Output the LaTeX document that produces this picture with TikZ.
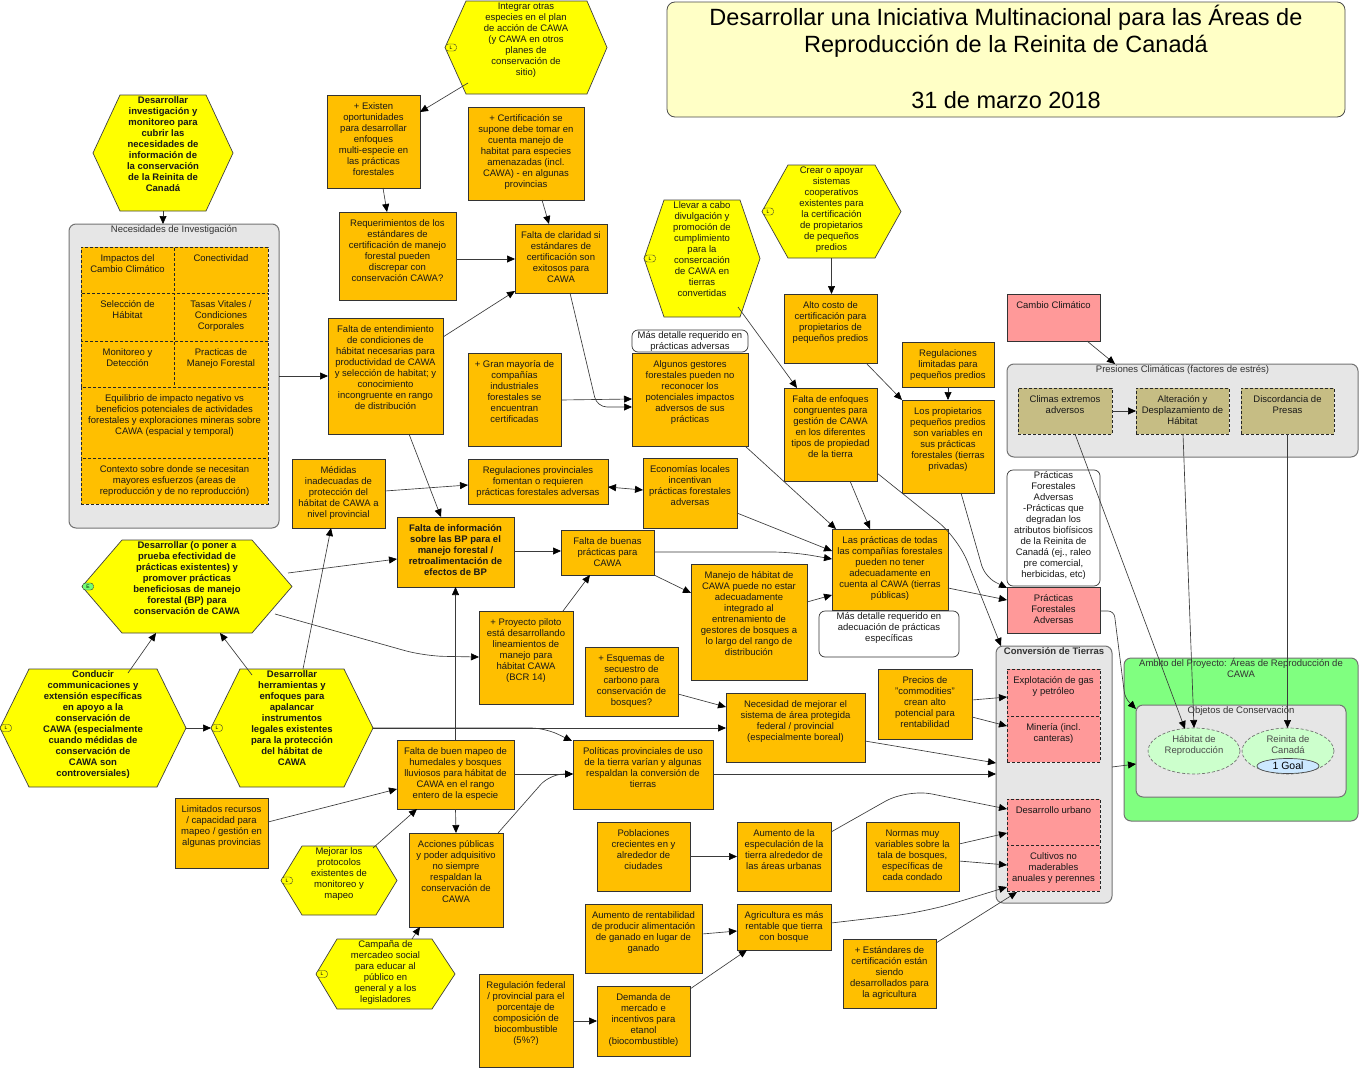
\documentclass[tikz,border=0pt]{standalone}
\usepackage{fontspec}
\setmainfont{Liberation Sans}
\usetikzlibrary{arrows.meta,shapes.geometric}

\definecolor{orng}{HTML}{FFBF00}
\definecolor{yel}{HTML}{FFFF00}
\definecolor{gry}{HTML}{E6E6E6}
\definecolor{rd}{HTML}{FF9999}
\definecolor{grn}{HTML}{80FF80}
\definecolor{olv}{HTML}{C6BD84}
\definecolor{lgrn}{HTML}{CCFFCC}
\definecolor{lblue}{HTML}{CCE8FF}
\definecolor{ttl}{HTML}{FFFFC6}
\definecolor{edge}{HTML}{3A3A3A}

\newcommand{\fs}{\fontsize{9.5}{11}\selectfont}

\tikzset{
  base/.style={inner sep=0pt, outer sep=0pt},
  box/.style={base, draw=black!80, fill=orng, line width=0.8pt},
  rbox/.style={box, fill=rd},
  cell/.style={base, draw=black!85, fill=orng, line width=0.8pt, dash pattern=on 3pt off 2pt},
  rcell/.style={cell, fill=rd},
  ocell/.style={cell, fill=olv},
  note/.style={base, draw=black!80, fill=white, rounded corners=6pt, line width=0.7pt},
  cont/.style={base, draw=black!55, fill=gry, rounded corners=7pt, line width=1pt},
  gcont/.style={cont, fill=grn},
  lbl/.style={base, align=center, font=\fs, text=black!90},
  hexa/.style={draw=black!75, fill=yel, line width=0.7pt},
  badge/.style={base, draw=black!80, fill=#1, rounded corners=3pt, minimum width=11pt, minimum height=7pt, font=\fontsize{5}{5}\selectfont},
  ell/.style={base, ellipse, draw=black!55, dash pattern=on 3pt off 2pt, fill=lgrn, line width=0.7pt},
  goal/.style={base, ellipse, draw=black!70, fill=lblue, line width=0.7pt, font=\fontsize{10.5}{12}\selectfont},
  arr/.style={draw=edge, line width=0.65pt, -{Triangle[length=8pt,width=7pt,black]}},
  dbl/.style={draw=edge, line width=0.65pt, {Triangle[length=8pt,width=7pt,black]}-{Triangle[length=8pt,width=7pt,black]}},
}

% box: [style]{name}{left}{top}{right}{bottom}{text}
\newcommand{\bx}[7][box]{%
  \node[#1, anchor=north west, minimum width={#5-#3}, minimum height={#6-#4}] (#2) at (#3,#4) {};
  \node[lbl, anchor=north] (#2-t) at ([yshift=-6pt]#2.north) {\rule{0pt}{8.5pt}#7};}
% bold box: {name}{left}{top}{right}{bottom}{text}
\newcommand{\bbx}[6]{%
  \node[box, anchor=north west, minimum width={#4-#2}, minimum height={#5-#3}] (#1) at (#2,#3) {};
  \node[lbl, font=\fs\bfseries, anchor=north] (#1-t) at ([yshift=-6pt]#1.north) {\rule{0pt}{8.5pt}#6};}
% note: {name}{left}{top}{right}{bottom}{text}
\newcommand{\nt}[6]{%
  \node[note, anchor=north west, minimum width={#4-#2}, minimum height={#5-#3}] (#1) at (#2,#3) {};
  \node[lbl, anchor=north] (#1-t) at (#1.north) {\rule{0pt}{8pt}#6};}
% container: [style]{name}{left}{top}{right}{bottom}{title}
\newcommand{\ct}[7][cont]{%
  \node[#1, anchor=north west, minimum width={#5-#3}, minimum height={#6-#4}] (#2) at (#3,#4) {};
  \node[lbl, anchor=north, text=black!80] (#2-t) at (#2.north) {\rule{0pt}{8.5pt}#7};}
% hexagon: {name}{left}{top-edge left}{top-edge right}{right}{top}{bottom}{font}{text}
\newcommand{\hx}[9]{%
  \path[hexa] (#2,{(#6+#7)/2}) -- (#3,#6) -- (#4,#6) -- (#5,{(#6+#7)/2}) -- (#4,#7) -- (#3,#7) -- cycle;
  \node[base, anchor=north west, minimum width={#5-#2}, minimum height={#7-#6}] (#1) at (#2,#6) {};
  \node[lbl, font=\fs#8, anchor=north] (#1-t) at (#1.north) {\rule{0pt}{8.5pt}#9};}
% badge: {name}{x}{y}{fill}{letter}
\newcommand{\bdg}[5]{\node[badge=#4] (#1) at (#2,#3) {#5};}

\begin{document}
\begin{tikzpicture}[x=1pt,y=-1pt]
\useasboundingbox (0,0) rectangle (1361,1084);
\fill[white] (0,0) rectangle (1361,1084);

% ---------- title ----------
\node[base, draw=black!70, fill=ttl, rounded corners=8pt, line width=0.8pt, anchor=north west, minimum width=678, minimum height=115] (title) at (667,2) {};
\node[base, anchor=base, font=\fontsize{23.5}{27}\selectfont] (title-a) at ([yshift=-23.5pt]title.north) {Desarrollar una Iniciativa Multinacional para las Áreas de};
\node[base, anchor=base, font=\fontsize{23.5}{27}\selectfont] (title-b) at ([yshift=-50.5pt]title.north) {Reproducción de la Reinita de Canadá};
\node[base, anchor=base, font=\fontsize{23.5}{27}\selectfont] (title-c) at ([yshift=-106.5pt]title.north) {31 de marzo 2018};

% ---------- containers ----------
\ct{c1}{69}{224}{279}{528}{Necesidades de Investigación}
\ct{c2}{1007}{364}{1358}{457}{Presiones Climáticas (factores de estrés)}
\ct{c3}{996}{646}{1112}{903}{\bfseries Conversión de Tierras}
\ct[gcont]{c4}{1124}{658}{1358}{821}{Ambito del Proyecto: Áreas de Reproducción de\\CAWA}
\ct{c5}{1136}{705}{1346}{797}{Objetos de Conservación}

% research needs
\bx[cell]{k1}{81}{247}{174}{293}{Impactos del\\Cambio Climático}
\bx[cell]{k2}{174}{247}{268}{293}{Conectividad}
\bx[cell]{k3}{81}{293}{174}{341}{Selección de\\Hábitat}
\bx[cell]{k4}{174}{293}{268}{341}{Tasas Vitales /\\Condiciones\\Corporales}
\bx[cell]{k5}{81}{341}{174}{387}{Monitoreo y\\Detección}
\bx[cell]{k6}{174}{341}{268}{387}{Practicas de\\Manejo Forestal}
\bx[cell]{k7}{81}{387}{268}{458}{Equilibrio de impacto negativo vs\\beneficios potenciales de actividades\\forestales y exploraciones mineras sobre\\CAWA (espacial y temporal)}
\bx[cell]{k8}{81}{458}{268}{504}{Contexto sobre donde se necesitan\\mayores esfuerzos (areas de\\reproducción y de no reproducción)}

% climate pressures
\bx[ocell]{cl}{1018}{388}{1112}{434}{Climas extremos\\adversos}
\bx[ocell]{al}{1136}{388}{1229}{434}{Alteración y\\Desplazamiento de\\Hábitat}
\bx[ocell]{ds}{1241}{388}{1334}{434}{Discordancia de\\Presas}

% land conversion
\bx[rcell]{x1}{1007}{669}{1100}{716}{Explotación de gas\\y petróleo}
\bx[rcell]{x2}{1007}{716}{1100}{762}{Minería (incl.\\canteras)}
\bx[rcell]{x3}{1007}{799}{1100}{845}{Desarrollo urbano}
\bx[rcell]{x4}{1007}{845}{1100}{891}{Cultivos no\\maderables\\anuales y perennes}

% conservation targets
\node[ell, minimum width=92, minimum height=46] (e1) at (1194,751) {};
\node[lbl, anchor=north, text=black!70] (e1-t) at ([yshift=-6pt]e1.north) {\rule{0pt}{8.5pt}Hábitat de\\Reproducción};
\node[ell, minimum width=92, minimum height=46] (e2) at (1288,751) {};
\node[lbl, anchor=north, text=black!70] (e2-t) at ([yshift=-6pt]e2.north) {\rule{0pt}{8.5pt}Reinita de\\Canadá};
\node[goal, minimum width=62, minimum height=15] (g1) at (1288,766) {1 Goal};

% ---------- threats ----------
\bx[rbox]{r1}{1007}{294}{1100}{341}{Cambio Climático}
\nt{n3}{1007}{470}{1100}{586}{Prácticas\\Forestales\\Adversas\\-Prácticas que\\degradan los\\atributos biofísicos\\de la Reinita de\\Canadá (ej., raleo\\pre comercial,\\herbicidas, etc)}
\bx[rbox]{r2}{1007}{587}{1100}{633}{Prácticas\\Forestales\\Adversas}

% ---------- contributing factors ----------
\bx{b1}{327}{95}{420}{188}{+ Existen\\oportunidades\\para desarrollar\\enfoques\\multi-especie en\\las prácticas\\forestales}
\bx{b2}{339}{212}{456}{300}{Requerimientos de los\\estándares de\\certificación de manejo\\forestal pueden\\discrepar con\\conservación CAWA?}
\bx{b3}{515}{224}{607}{293}{Falta de claridad si\\estándares de\\certificación son\\exitosos para\\CAWA}
\bx{b4}{468}{107}{584}{200}{+ Certificación se\\supone debe tomar en\\cuenta manejo de\\habitat para especies\\amenazadas (incl.\\CAWA) - en algunas\\provincias}
\bx{b5}{328}{318}{443}{434}{Falta de entendimiento\\de condiciones de\\hábitat necesarias para\\productividad de CAWA\\y selección de habitat; y\\conocimiento\\incongruente en rango\\de distribución}
\bx{b6}{468}{353}{561}{446}{+ Gran mayoría de\\compañías\\industriales\\forestales se\\encuentran\\certificadas}
\nt{n1}{632}{330}{748}{352}{Más detalle requerido en\\prácticas adversas}
\bx{b8}{632}{353}{748}{446}{Algunos gestores\\forestales pueden no\\reconocer los\\potenciales impactos\\adversos de sus\\prácticas}
\bx{b9}{784}{294}{877}{363}{Alto costo de\\certificación para\\propietarios de\\pequeños predios}
\bx{b10}{902}{342}{994}{387}{Regulaciones\\limitadas para\\pequeños predios}
\bx{b11}{902}{400}{994}{493}{Los propietarios\\pequeños predios\\son variables en\\sus prácticas\\forestales (tierras\\privadas)}
\bx{b12}{784}{388}{877}{481}{Falta de enfoques\\congruentes para\\gestión de CAWA\\en los diferentes\\tipos de propiedad\\de la tierra}
\bx{b13}{643}{458}{737}{528}{Economías locales\\incentivan\\prácticas forestales\\adversas}
\bx{b14}{468}{459}{608}{504}{Regulaciones provinciales\\fomentan o requieren\\prácticas forestales adversas}
\bx{b15}{292}{459}{385}{528}{Médidas\\inadecuadas de\\protección del\\hábitat de CAWA a\\nivel provincial}
\bbx{b16}{397}{517}{514}{587}{Falta de información\\sobre las BP para el\\manejo forestal /\\retroalimentación de\\efectos de BP}
\bx{b17}{561}{530}{654}{575}{Falta de buenas\\prácticas para\\CAWA}
\bx{b18}{691}{564}{807}{680}{Manejo de hábitat de\\CAWA puede no estar\\adecuadamente\\integrado al\\entrenamiento de\\gestores de bosques a\\lo largo del rango de\\distribución}
\bx{b19}{832}{529}{948}{610}{Las prácticas de todas\\las compañías forestales\\pueden no tener\\adecuadamente en\\cuenta al CAWA (tierras\\públicas)}
\nt{n2}{819}{611}{959}{657}{Más detalle requerido en\\adecuación de prácticas\\específicas}
\bx{b21}{479}{611}{573}{704}{+ Proyecto piloto\\está desarrollando\\lineamientos de\\manejo para\\hábitat CAWA\\(BCR 14)}
\bx{b22}{397}{740}{514}{809}{Falta de buen mapeo de\\humedales y bosques\\lluviosos para hábitat de\\CAWA en el rango\\entero de la especie}
\bx{b23}{573}{740}{713}{809}{Políticas provinciales de uso\\de la tierra varían y algunas\\respaldan la conversión de\\tierras}
\bx{b24}{175}{798}{268}{868}{Limitados recursos\\/ capacidad para\\mapeo / gestión en\\algunas provincias}
\bx{b25}{585}{647}{678}{716}{+ Esquemas de\\secuestro de\\carbono para\\conservación de\\bosques?}
\bx{b26}{726}{693}{865}{762}{Necesidad de mejorar el\\sistema de área protegida\\federal / provincial\\(especialmente boreal)}
\bx{b27}{878}{669}{972}{739}{Precios de\\"commodities"\\crean alto\\potencial para\\rentabilidad}
\bx{b28}{409}{833}{503}{927}{Acciones públicas\\y poder adquisitivo\\no siempre\\respaldan la\\conservación de\\CAWA}
\bx{b29}{479}{974}{573}{1067}{Regulación federal\\/ provincial para el\\porcentaje de\\composición de\\biocombustible\\(5\%?)}
\bx{b30}{597}{822}{690}{891}{Poblaciones\\crecientes en y\\alrededor de\\ciudades}
\bx{b31}{737}{822}{831}{891}{Aumento de la\\especulación de la\\tierra alrededor de\\las áreas urbanas}
\bx{b32}{597}{986}{690}{1056}{Demanda de\\mercado e\\incentivos para\\etanol\\(biocombustible)}
\bx{b33}{585}{904}{702}{973}{Aumento de rentabilidad\\de producir alimentación\\de ganado en lugar de\\ganado}
\bx{b34}{737}{904}{831}{950}{Agricultura es más\\rentable que tierra\\con bosque}
\bx{b35}{866}{822}{959}{891}{Normas muy\\variables sobre la\\tala de bosques,\\específicas de\\cada condado}
\bx{b36}{843}{939}{936}{1008}{+ Estándares de\\certificación están\\siendo\\desarrollados para\\la agricultura}

% ---------- strategies ----------
\hx{h1}{93}{120}{206}{233}{95}{211}{\bfseries}{Desarrollar\\investigación y\\monitoreo para\\cubrir las\\necesidades de\\información de\\la conservación\\de la Reinita de\\Canadá}
\hx{h2}{445}{466}{587}{607}{1}{94}{}{Integrar otras\\especies en el plan\\de acción de CAWA\\(y CAWA en otros\\planes de\\conservación de\\sitio)}
\hx{h3}{644}{664}{740}{760}{200}{317}{}{Llevar a cabo\\divulgación y\\promoción de\\cumplimiento\\para la\\consercación\\de CAWA en\\tierras\\convertidas}
\hx{h4}{762}{788}{875}{901}{165}{258}{}{Crear o apoyar\\sistemas\\cooperativos\\existentes para\\la certificación\\de propietarios\\de pequeños\\predios}
\hx{h5}{82}{122}{252}{292}{540}{633}{\bfseries}{Desarrollar (o poner a\\prueba efectividad de\\prácticas existentes) y\\promover prácticas\\beneficiosas de manejo\\forestal (BP) para\\conservación de CAWA}
\hx{h6}{0}{29}{157}{186}{669}{787}{\bfseries}{Conducir\\communicaciones y\\extensión específicas\\en apoyo a la\\conservación de\\CAWA (especialmente\\cuando médidas de\\conservación de\\CAWA son\\controversiales)}
\hx{h7}{211}{240}{344}{373}{669}{787}{\bfseries}{Desarrollar\\herramientas y\\enfoques para\\apalancar\\instrumentos\\legales existentes\\para la protección\\del hábitat de\\CAWA}
\hx{h8}{281}{302}{376}{397}{846}{915}{}{Mejorar los\\protocolos\\existentes de\\monitoreo y\\mapeo}
\hx{h9}{316}{337}{432}{455}{939}{1009}{}{Campaña de\\mercadeo social\\para educar al\\público en\\general y a los\\legisladores}

\bdg{bg2}{451}{47.5}{yel}{L}
\bdg{bg3}{650}{258.5}{yel}{L}
\bdg{bg4}{768}{211.5}{yel}{L}
\bdg{bg5}{88}{586.5}{green!55}{E}
\bdg{bg6}{6}{728}{yel}{L}
\bdg{bg7}{217}{728}{yel}{L}
\bdg{bg8}{287}{880.5}{yel}{L}
\bdg{bg9}{322}{974}{yel}{L}

% ---------- connectors ----------
\draw[arr] (h1.south) -- (h1.south |- c1.north);
\draw[arr] ([shift={(23,82)}]h2.north west) -- ([shift={(0,17)}]b1.north east);
\draw[arr] ([shift={(56,0)}]b1.south west) -- ([shift={(48,0)}]b2.north west);
\draw[arr] ([shift={(0,47)}]b2.north east) -- ([shift={(0,35)}]b3.north west);
\draw[arr] ([shift={(74,0)}]b4.south west) -- ([shift={(34,0)}]b3.north west);
\draw[arr] ([shift={(0,19)}]b5.north east) -- ([shift={(0,67)}]b3.north west);
\draw[arr] ([shift={(81,0)}]b5.south west) -- ([shift={(44,0)}]b16.north west);
\draw[arr] ([shift={(0,152)}]c1.north east) -- ([shift={(0,58)}]b5.north west);
\draw[arr] ([shift={(0,47)}]b6.north east) -- ([shift={(0,46)}]b8.north west);
\draw[arr, rounded corners=10pt] ([shift={(55,0)}]b3.south west) -- ([shift={(-35,54)}]b8.north west) -- ([shift={(0,54)}]b8.north west);
\draw[arr] ([shift={(-3,0)}]b8.south east) -- ([shift={(4,0)}]b19.north west);
\draw[arr] ([shift={(94,107)}]h3.north west) -- ([shift={(13,0)}]b12.north west);
\draw[arr] (h4.south) -- (h4.south |- b9.north);
\draw[arr] ([shift={(82,0)}]b9.south west) -- (b11.north west);
\draw[arr] (b10.south) -- (b11.north);
\draw[arr, rounded corners=12pt] ([shift={(59,0)}]b11.south west) -- ([shift={(-22,-10)}]r2.north west) -- ([shift={(0,1)}]r2.north west);
\draw[arr] ([shift={(66,0)}]b12.south west) -- ([shift={(38,0)}]b19.north west);
\draw[arr, rounded corners=25pt] ([shift={(0,85)}]b12.north east) -- ([shift={(-38,-108)}]c3.north west) -- ([shift={(5,0)}]c3.north west);
\draw[arr] ([shift={(0,55)}]b13.north east) -- ([shift={(0,22)}]b19.north west);
\draw[dbl] ([shift={(0,28)}]b14.north east) -- ([shift={(0,32)}]b13.north west);
\draw[arr] ([shift={(0,32)}]b15.north east) -- ([shift={(0,26)}]b14.north west);
\draw[arr] ([shift={(0,34)}]b16.north east) -- ([shift={(0,21)}]b17.north west);
\draw[arr, rounded corners=20pt] ([shift={(0,22)}]b17.north east) -- ([shift={(-40,23)}]b19.north west) -- ([shift={(0,30)}]b19.north west);
\draw[arr] (b17.south east) -- ([shift={(0,29)}]b18.north west);
\draw[arr] ([shift={(0,38)}]b18.north east) -- ([shift={(0,66)}]b19.north west);
\draw[arr] ([shift={(0,59)}]b19.north east) -- ([shift={(0,13)}]r2.north west);
\draw[arr] ([shift={(84,0)}]b21.north west) -- ([shift={(29,0)}]b17.south west);
\draw[arr] ([shift={(206,33)}]h5.north west) -- ([shift={(0,42)}]b16.north west);
\draw[arr, rounded corners=20pt] ([shift={(193,74)}]h5.north west) -- ([shift={(-55,45)}]b21.north west) -- ([shift={(0,46)}]b21.north west);
\draw[arr] ([shift={(128,4)}]h6.north west) -- ([shift={(74,93)}]h5.north west);
\draw[arr] ([shift={(41,6)}]h7.north west) -- ([shift={(138,93)}]h5.north west);
\draw[arr] (h6.east) -- (h7.west);
\draw[arr] ([shift={(92,0)}]h7.north west) -- ([shift={(39,0)}]b15.south west);
\draw[arr] (h7.east) -- (h7.east -| b26.west);
\draw[arr, rounded corners=14pt] (h7.east) -- ([shift={(-28,-12)}]b23.north west) -- ([shift={(-1,1)}]b23.north west);
\draw[arr] (b22.north) -- (b16.south);
\draw[arr] ([shift={(0,24)}]b24.north east) -- ([shift={(0,49)}]b22.north west);
\draw[arr] ([shift={(92,2)}]h8.north west) -- ([shift={(20,0)}]b22.south west);
\draw[arr] (b22.south) -- (b28.north);
\draw[arr] ([shift={(0,34)}]b22.north east) -- ([shift={(0,34)}]b23.north west);
\draw[arr, rounded corners=14pt] ([shift={(-5,0)}]b28.north east) -- ([shift={(-23,34)}]b23.north west) -- ([shift={(0,34)}]b23.north west);
\draw[arr] ([shift={(96,0)}]h9.north west) -- ([shift={(11,0)}]b28.south west);
\draw[arr] ([shift={(0,34)}]b23.north east) -- ([shift={(0,128)}]c3.north west);
\draw[arr] ([shift={(0,47)}]b25.north east) -- ([shift={(0,14)}]b26.north west);
\draw[arr] ([shift={(0,48)}]b26.north east) -- ([shift={(0,117)}]c3.north west);
\draw[arr] ([shift={(0,31)}]b27.north east) -- ([shift={(0,28)}]x1.north west);
\draw[arr] ([shift={(0,48)}]b27.north east) -- ([shift={(0,10)}]x2.north west);
\draw[arr, rounded corners=25pt] ([shift={(0,10)}]b31.north east) -- ([shift={(-100,-10)}]x3.north west) -- ([shift={(0,10)}]x3.north west);
\draw[arr] ([shift={(0,22)}]b35.north east) -- ([shift={(0,34)}]x3.north west);
\draw[arr] ([shift={(0,39)}]b35.north east) -- ([shift={(0,20)}]x4.north west);
\draw[arr, rounded corners=30pt] ([shift={(0,19)}]b34.north east) -- ([shift={(-82,67)}]x4.north west) -- ([shift={(0,42)}]x4.north west);
\draw[arr] ([shift={(0,4)}]b36.north east) -- ([shift={(10,1)}]x4.south west);
\draw[arr] (b30.east) -- (b31.west);
\draw[arr] ([shift={(0,30)}]b33.north east) -- ([shift={(0,27)}]b34.north west);
\draw[arr] ([shift={(0,3)}]b32.north east) -- ([shift={(10,0)}]b34.south west);
\draw[arr] ([shift={(0,47)}]b29.north east) -- ([shift={(0,35)}]b32.north west);
\draw[arr] ([shift={(0,121)}]c3.north east) -- ([shift={(0,59)}]c5.north west);
\draw[arr, rounded corners=6pt] ([shift={(0,24)}]r2.north east) -- ([shift={(-22,-94)}]c5.north west) -- ([shift={(-11,-7)}]c5.north west) -- ([shift={(0,4)}]c5.north west);
\draw[arr] ([shift={(80,0)}]r1.south west) -- ([shift={(108,0)}]c2.north west);
\draw[arr] (cl.east) -- (al.west);
\draw[arr] ([shift={(57,0)}]cl.south west) -- ([shift={(-9,1)}]e1.north);
\draw[arr] ([shift={(47,0)}]al.south west) -- (e1.north);
\draw[arr] (ds.south) -- (ds.south |- e2.north);
\end{tikzpicture}
\end{document}
